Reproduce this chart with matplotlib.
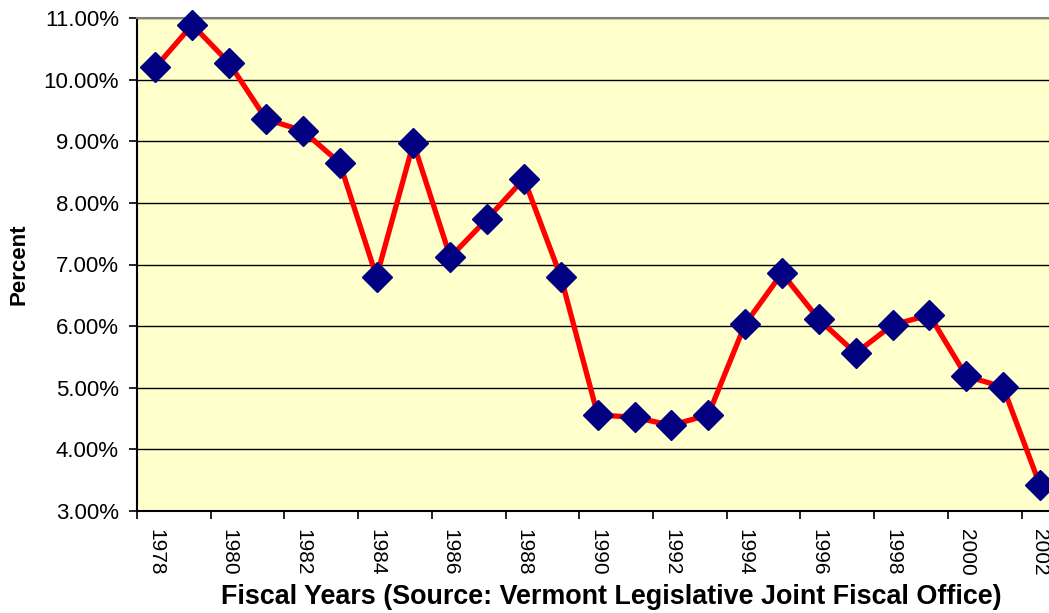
import matplotlib
matplotlib.use("Agg")
import matplotlib.pyplot as plt
from matplotlib.ticker import FixedLocator, FuncFormatter

years = list(range(1978, 2003))
percent = [10.20, 10.89, 10.27, 9.36, 9.17, 8.65, 6.80, 8.97, 7.12, 7.74,
           8.39, 6.80, 4.56, 4.52, 4.39, 4.56, 6.03, 6.86, 6.11, 5.56,
           6.02, 6.18, 5.19, 5.01, 3.42]
year_labels = [str(y) for y in range(1978, 2003, 2)]

plt.rcParams['font.family'] = ['Liberation Sans', 'DejaVu Sans']

fig = plt.figure(figsize=(10.49, 6.13), dpi=100)
ax = fig.add_axes([137/1049, 102/613, 1 - 137/1049 + 0.0005, (511-18)/613])
ax.set_facecolor('#FFFFCC')

ax.plot(years, percent, color='#FF0000', lw=3.8, zorder=3,
        marker='D', markersize=15, markerfacecolor='#000080',
        markeredgecolor='#000080', clip_on=False)

ax.set_ylim(3, 11)
ax.set_xlim(1977.5, 2002.26)
ax.set_yticks([3, 4, 5, 6, 7, 8, 9, 10, 11])
ax.yaxis.set_major_formatter(FuncFormatter(lambda v, p: f"{v:.2f}%"))
ax.grid(axis='y', color='black', lw=1)
ax.set_axisbelow(True)

ax.xaxis.set_major_locator(FixedLocator([y - 0.5 for y in range(1978, 2003, 2)]))
ax.set_xticklabels([])
ax.xaxis.set_minor_locator(FixedLocator(list(range(1978, 2003, 2))))
ax.set_xticklabels(year_labels, minor=True, rotation=270, fontsize=15)
ax.tick_params(axis='x', which='minor', length=0, pad=13)
ax.tick_params(axis='x', which='major', length=6, width=1.2, direction='out')
ax.tick_params(axis='y', length=6, width=1.2, labelsize=16, pad=7)

ax.spines['right'].set_visible(False)
ax.spines['top'].set_color('#808080')
ax.spines['top'].set_linewidth(1.5)
ax.spines['left'].set_linewidth(1.5)
ax.spines['bottom'].set_linewidth(1.5)

ax.set_ylabel('Percent', fontsize=16, fontweight='bold')
ax.yaxis.set_label_coords(-(137 - 30) / (1049 - 137), 0.5)
ax.set_xlabel('Fiscal Years (Source: Vermont Legislative Joint Fiscal Office)',
              fontsize=19.4, fontweight='bold')
ax.xaxis.set_label_coords((611 - 137) / (1049 - 137), -73/493)

fig.savefig('out.png', dpi=100)
